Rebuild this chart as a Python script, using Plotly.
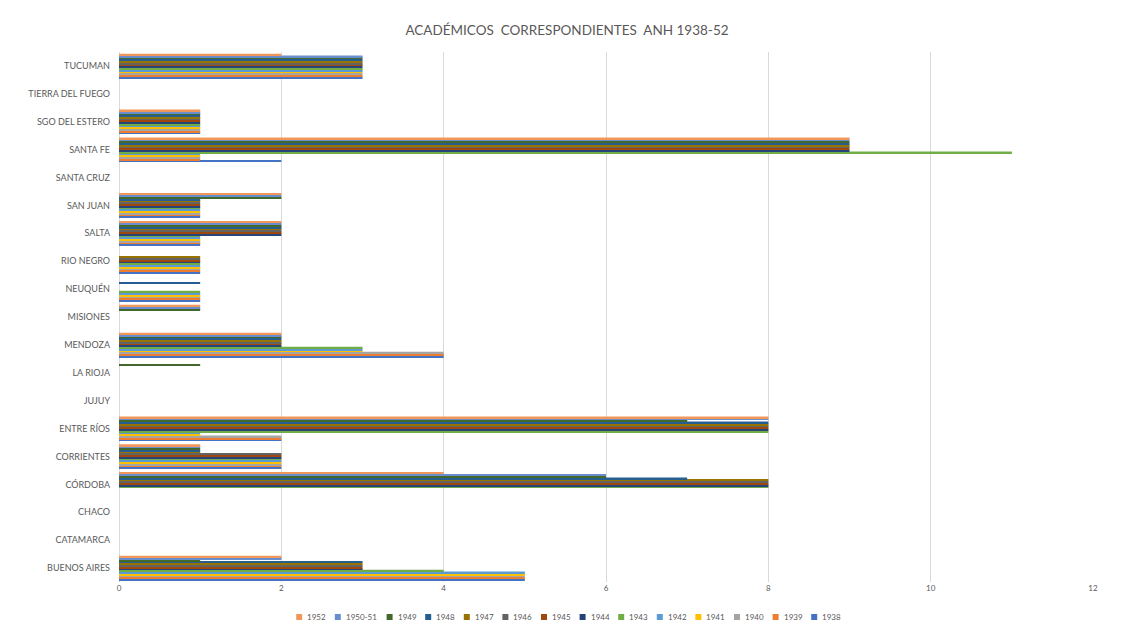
import plotly.graph_objects as go

categories = ["BUENOS AIRES", "CATAMARCA", "CHACO", "CÓRDOBA", "CORRIENTES", "ENTRE RÍOS",
              "JUJUY", "LA RIOJA", "MENDOZA", "MISIONES", "NEUQUÉN", "RIO NEGRO", "SALTA",
              "SAN JUAN", "SANTA CRUZ", "SANTA FE", "SGO DEL ESTERO", "TIERRA DEL FUEGO", "TUCUMAN"]

years = ["1938", "1939", "1940", "1941", "1942", "1943", "1944", "1945", "1946", "1947",
         "1948", "1949", "1950-51", "1952"]

v1938 = [5, 0, 0, 0, 2, 2, 0, 0, 4, 0, 1, 1, 1, 1, 0, 2, 1, 0, 3]
v1939 = [5, 0, 0, 0, 2, 2, 0, 0, 4, 0, 1, 1, 1, 1, 0, 1, 1, 0, 3]
v1940 = [5, 0, 0, 0, 2, 2, 0, 0, 4, 0, 1, 1, 1, 1, 0, 1, 1, 0, 3]
v1941 = [5, 0, 0, 0, 2, 1, 0, 0, 3, 0, 1, 1, 1, 1, 0, 1, 1, 0, 3]
v1942 = [5, 0, 0, 0, 2, 1, 0, 0, 3, 0, 1, 1, 1, 1, 0, 1, 1, 0, 3]
v1943 = [4, 0, 0, 8, 2, 8, 0, 0, 3, 0, 1, 1, 1, 1, 0, 11, 1, 0, 3]
v1944 = [3, 0, 0, 8, 2, 8, 0, 0, 2, 0, 0, 1, 2, 1, 0, 9, 1, 0, 3]
v1945 = [3, 0, 0, 8, 2, 8, 0, 0, 2, 0, 0, 1, 2, 1, 0, 9, 1, 0, 3]
v1946 = [3, 0, 0, 8, 2, 8, 0, 0, 2, 0, 0, 1, 2, 1, 0, 9, 1, 0, 3]
v1947 = [3, 0, 0, 8, 1, 8, 0, 0, 2, 0, 0, 1, 2, 1, 0, 9, 1, 0, 3]
v1948 = [3, 0, 0, 7, 1, 8, 0, 0, 2, 0, 1, 0, 2, 1, 0, 9, 1, 0, 3]
v1949 = [1, 0, 0, 6, 1, 7, 0, 1, 2, 1, 0, 0, 2, 2, 0, 9, 1, 0, 3]
v1950_51 = [2, 0, 0, 6, 1, 8, 0, 0, 2, 1, 0, 0, 2, 2, 0, 9, 1, 0, 3]
v1952 = [2, 0, 0, 4, 1, 8, 0, 0, 2, 1, 0, 0, 2, 2, 0, 9, 1, 0, 2]

series = [v1938, v1939, v1940, v1941, v1942, v1943, v1944, v1945, v1946, v1947,
          v1948, v1949, v1950_51, v1952]

colors = ["#4472C4", "#ED7D31", "#A5A5A5", "#FFC000", "#5B9BD5", "#70AD47", "#264478",
          "#9E480E", "#636363", "#997300", "#255E91", "#43682B", "#698ED0", "#F1975A"]

x_ticks = [0, 2, 4, 6, 8, 10, 12]

FONT = "Lato, 'Open Sans', sans-serif"

W, H = 1134, 640
ML, MR, MT, MB = 119, 41, 52, 58
PW, PH = W - ML - MR, H - MT - MB

fig = go.Figure()
for name, vals, col in zip(years, series, colors):
    fig.add_trace(go.Bar(
        y=categories, x=vals, name=name, orientation="h",
        marker=dict(color=col, line=dict(width=0)),
        showlegend=False,
    ))

# Compact Excel-style legend (reversed order: 1952 first), built from the series list
legend_y_px = 617
sq = 6
entries = list(zip(years, colors))[::-1]
widths = [sq + 3 + len(t) * 4.4 + 12 for t, _ in entries]
total = sum(widths) - 12
x0 = W / 2 - total / 2
shapes, annos = [], []
for (txt, col), w in zip(entries, widths):
    px0 = x0
    shapes.append(dict(
        type="rect", xref="paper", yref="paper",
        x0=(px0 - ML) / PW, x1=(px0 + sq - ML) / PW,
        y0=(H - MB - (legend_y_px + sq / 2)) / PH, y1=(H - MB - (legend_y_px - sq / 2)) / PH,
        fillcolor=col, line=dict(width=0),
    ))
    annos.append(dict(
        xref="paper", yref="paper", x=(px0 + sq + 3 - ML) / PW,
        y=(H - MB - legend_y_px) / PH, xanchor="left", yanchor="middle",
        text=txt, showarrow=False, font=dict(size=8, color="#595959", family=FONT),
    ))
    x0 += w

fig.update_layout(
    width=W, height=H,
    paper_bgcolor="white", plot_bgcolor="white",
    barmode="group", bargap=0.125, bargroupgap=0,
    margin=dict(l=ML, r=MR, t=MT, b=MB),
    font=dict(family=FONT, color="#595959", size=8),
    title=dict(
        text="ACADÉMICOS\u00a0 CORRESPONDIENTES\u00a0 ANH 1938-52",
        x=0.5, xanchor="center", xref="container",
        y=1 - 30 / 640, yanchor="middle", yref="container",
        font=dict(family=FONT, size=13.5, color="#595959"),
    ),
    xaxis=dict(
        range=[0, 12], tickvals=x_ticks, ticktext=[str(t) for t in x_ticks],
        showgrid=True, gridcolor="#D9D9D9", gridwidth=1,
        zeroline=True, zerolinecolor="#D9D9D9", zerolinewidth=1,
        showline=False, ticks="", tickfont=dict(size=8, color="#595959"),
        fixedrange=True,
    ),
    yaxis=dict(
        type="category", categoryorder="array", categoryarray=categories,
        showgrid=False, showline=False, ticks="", zeroline=False,
        tickfont=dict(size=9, color="#595959"), ticklabelstandoff=8,
        fixedrange=True,
    ),
    shapes=shapes,
    annotations=annos,
    showlegend=False,
)

fig.write_html("out.html")
